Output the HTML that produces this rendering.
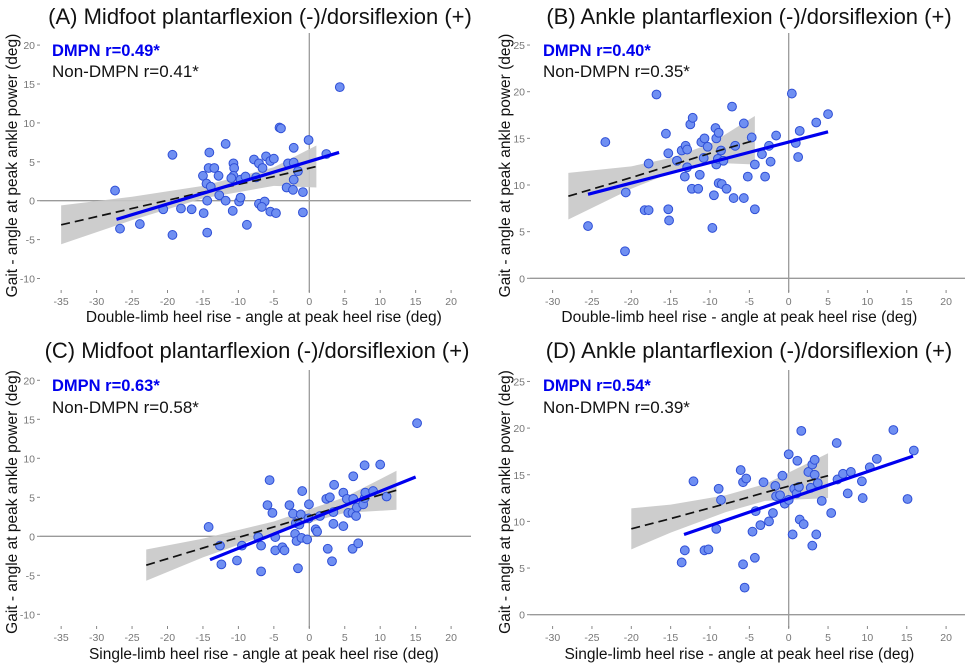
<!DOCTYPE html>
<html><head><meta charset="utf-8">
<style>
html,body{margin:0;padding:0;background:#fff;}
svg{display:block;font-family:"Liberation Sans",Arial,sans-serif;}
</style></head>
<body>
<svg id="fig" width="972" height="666" viewBox="0 0 972 666" xmlns="http://www.w3.org/2000/svg"></svg>
<script>
// ---------- Data ----------
const xTicksMid = [-35,-30,-25,-20,-15,-10,-5,0,5,10,15,20];
const yTicksMid = [-10,-5,0,5,10,15,20];
const xTicksAnk = [-30,-25,-20,-15,-10,-5,0,5,10,15,20];
const yTicksAnk = [0,5,10,15,20,25];

const ptsAx = [-27.4,-26.7,-23.9,-20.6,-19.3,-19.3,-18.1,-16.6,-15,-14.9,-14.5,-14.1,-14.2,-14.4,-14.4,-13.9,-13.4,-12.8,-12.7,-11.8,-11.8,-10.8,-10.7,-10.6,-10.7,-11,-9.9,-9.7,-9.7,-9,-8.8,-7.8,-7.5,-7.1,-7.1,-6.6,-6.3,-6.1,-6.7,-5.5,-5,-5.5,-4.7,-4.2,-4,-3.2,-3,-2.3,-2.2,-2.2,-2.2,-1.6,-0.9,-0.9,-0.1,2.4,4.3];
const ptsAy = [1.3,-3.6,-3.0,-1.1,5.9,-4.4,-1.0,-1.1,3.2,-1.6,2.2,6.2,4.2,0,-4.1,1.8,4.2,3.2,0.7,7.3,0,-1.3,4.8,4.2,3.2,2.9,-0.1,0.4,2.7,3.1,-3.1,5.3,3.0,4.8,-0.4,4.2,-0.1,5.7,-0.8,5.1,5.4,-1.4,-1.6,9.4,9.3,1.7,4.8,1.4,6.8,4.9,2.7,3.8,1.1,-1.5,7.8,6.0,14.6];
const fitA_dmpnX = [-27.2,4.2], fitA_dmpnY = [-2.4,6.2];
const fitA_nonX = [-35,-25,-15,-5,1], fitA_nonY = [-3.1,-1.0,1.1,3.1,4.4], fitA_ci = [2.5,1.5,0.8,1.2,2.7];

const ptsBx = [-25.5,-23.3,-20.7,-20.8,-18.3,-17.8,-17.8,-16.8,-15.6,-15.3,-15.3,-15.2,-14.2,-13.6,-13.2,-13.1,-12.9,-12.9,-12.5,-12.2,-12.3,-11.5,-11.3,-11.1,-10.7,-10.8,-10.3,-9.7,-9.5,-9.3,-9.2,-9.2,-8.9,-9,-8.9,-8.6,-8.5,-8.3,-7.9,-7.2,-7,-6.8,-5.7,-5.7,-5.2,-4.7,-4.3,-4.3,-3.4,-3,-2.5,-2.3,-1.6,0.4,0.9,1.2,1.4,3.5,5];
const ptsBy = [5.6,14.6,9.2,2.9,7.3,7.3,12.3,19.7,15.5,13.4,7.4,6.2,12.6,13.7,10.9,14.2,13.8,11.9,16.5,17.2,9.6,9.6,11.1,14.6,15,12.9,14.1,5.4,8.9,16.1,15,12.2,15.6,12.8,10.2,13.7,10.1,12.6,9.6,18.4,8.6,14.2,16.6,8.6,10.9,15.1,12.2,7.4,13.3,10.9,14.2,12.5,15.3,19.8,14.5,13,15.8,16.7,17.6];
const fitB_dmpnX = [-25.5,5], fitB_dmpnY = [9.0,15.7];
const fitB_nonX = [-28,-20,-15,-10,-4.3], fitB_nonY = [8.8,10.8,12.1,13.4,14.8], fitB_ci = [2.5,1.2,0.8,1.0,2.6];

const ptsCx = [-14.2,-12.6,-12.4,-10.2,-9.5,-7.2,-6.8,-6.8,-5.9,-5.6,-5.2,-4.8,-4.8,-3.8,-3.5,-2.8,-2.3,-2.0,-1.9,-1.8,-1.6,-1.4,-1.2,-1.1,-1.0,-0.3,-0.05,-0.1,0.9,1.1,1.5,2.4,2.6,2.9,3.2,3.4,3.5,3.4,4.8,4.8,5.3,5.5,6.1,6.2,6.1,6.2,6.6,6.7,6.9,7.6,7.8,7.9,7.8,9.0,10,10.9,15.2];
const ptsCy = [1.2,-1.2,-3.6,-3.1,-1.2,-0.1,-1.2,-4.5,4.0,7.2,3.0,-0.1,-1.8,-1.4,-1.8,4.0,2.9,0.3,1.7,-0.6,-4.1,1.5,2.8,-0.2,5.8,-0.4,4.1,2.3,0.9,0.6,2.6,4.8,-1.6,5.0,-3.2,1.6,6.6,3.1,5.6,1.3,4.8,3.0,3.0,4.8,-1.6,7.7,2.6,3.7,-0.9,4.1,4.9,5.6,9.1,5.8,9.2,5.1,14.5];
const fitC_dmpnX = [-14,15], fitC_dmpnY = [-3.0,7.6];
const fitC_nonX = [-23,-15,-5,5,12.3], fitC_nonY = [-3.7,-1.5,1.2,4.0,5.9], fitC_ci = [2.0,1.2,0.7,1.0,2.5];

const ptsDx = [-13.6,-13.2,-10.7,-10.2,-12.1,-9.2,-8.9,-8.6,-6.1,-5.8,-5.8,-5.6,-5.4,-4.6,-4.3,-4.2,-3.6,-3.2,-2.5,-2.0,-1.7,-1.6,-1.1,-0.8,-0.5,0,0,0.5,0.7,1.0,1.1,1.3,1.4,1.6,1.9,2.5,2.8,3.0,3.0,3.3,3.3,3.5,3.7,4.2,5.4,6.1,6.2,6.9,7.5,7.9,9.3,9.4,10.3,11.2,13.3,15.1,15.9];
const ptsDy = [5.6,6.9,6.9,7.0,14.3,9.2,13.5,12.3,15.5,14.2,5.4,2.9,14.6,8.9,6.1,11.1,9.6,14.2,10.0,10.9,13.8,12.7,12.8,14.9,11.9,17.2,12.3,8.6,13.5,13.0,16.5,13.7,10.2,19.7,9.7,15.3,13.6,16.1,7.4,15.0,16.6,8.6,14.1,12.2,10.9,18.4,14.5,15.1,13.0,15.3,14.3,12.5,15.8,16.7,19.8,12.4,17.6];
const fitD_dmpnX = [-13.3,15.8], fitD_dmpnY = [8.6,17.0];
const fitD_nonX = [-20,-15,-8,-3,5], fitD_nonY = [9.2,10.3,11.9,13.1,14.9], fitD_ci = [2.2,1.5,0.9,0.9,2.4];

// ---------- Layout ----------
const NS = "http://www.w3.org/2000/svg";
const svg = document.getElementById('fig');
function mk(tag, attrs, parent){
  const e = document.createElementNS(NS, tag);
  for (const k in attrs) e.setAttribute(k, attrs[k]);
  (parent||svg).appendChild(e);
  return e;
}

const panels = [
  {id:'a', title:'(A) Midfoot plantarflexion (-)/dorsiflexion (+)', tx:260, ty:24,
   xz:309.3, sx:7.09, yz:200.7, sy:7.78, L:40, R:471, T:33, B:292,
   xt:xTicksMid, yt:yTicksMid, xlab:'Double-limb heel rise - angle at peak heel rise (deg)', xly:322, ylx:13, tickY:305,
   r1:'DMPN r=0.49*', r2:'Non-DMPN  r=0.41*', ax:52, ay1:56, ay2:77,
   px:ptsAx, py:ptsAy, dX:fitA_dmpnX, dY:fitA_dmpnY, nX:fitA_nonX, nY:fitA_nonY, ci:fitA_ci},
  {id:'b', title:'(B) Ankle plantarflexion (-)/dorsiflexion (+)', tx:749, ty:24,
   xz:788.7, sx:7.87, yz:278.3, sy:9.33, L:530, R:965, T:33, B:292,
   xt:xTicksAnk, yt:yTicksAnk, xlab:'Double-limb heel rise - angle at peak heel rise (deg)', xly:322, ylx:506, tickY:305,
   r1:'DMPN r=0.40*', r2:'Non-DMPN r=0.35*', ax:543, ay1:56, ay2:77,
   px:ptsBx, py:ptsBy, dX:fitB_dmpnX, dY:fitB_dmpnY, nX:fitB_nonX, nY:fitB_nonY, ci:fitB_ci},
  {id:'c', title:'(C) Midfoot plantarflexion (-)/dorsiflexion (+)', tx:257, ty:358,
   xz:309.3, sx:7.09, yz:536.3, sy:7.8, L:40, R:471, T:370, B:628,
   xt:xTicksMid, yt:yTicksMid, xlab:'Single-limb heel rise - angle at peak heel rise (deg)', xly:659, ylx:13, tickY:641,
   r1:'DMPN r=0.63*', r2:'Non-DMPN r=0.58*', ax:52, ay1:391, ay2:413,
   px:ptsCx, py:ptsCy, dX:fitC_dmpnX, dY:fitC_dmpnY, nX:fitC_nonX, nY:fitC_nonY, ci:fitC_ci},
  {id:'d', title:'(D) Ankle plantarflexion (-)/dorsiflexion (+)', tx:749, ty:358,
   xz:788.7, sx:7.87, yz:614.7, sy:9.33, L:530, R:965, T:370, B:628,
   xt:xTicksAnk, yt:yTicksAnk, xlab:'Single-limb heel rise - angle at peak heel rise (deg)', xly:659, ylx:506, tickY:641,
   r1:'DMPN r=0.54*', r2:'Non-DMPN r=0.39*', ax:543, ay1:391, ay2:413,
   px:ptsDx, py:ptsDy, dX:fitD_dmpnX, dY:fitD_dmpnY, nX:fitD_nonX, nY:fitD_nonY, ci:fitD_ci}
];

panels.forEach(p => {
  const X = v => p.xz + v*p.sx;
  const Y = v => p.yz - v*p.sy;
  const g = mk('g', {});
  
  

  const t = mk('text', {x:p.tx, y:p.ty, 'text-anchor':'middle', 'font-size':'22', fill:'#111'}, g);
  t.textContent = p.title;
  
  

  const h = mk('line', {x1:p.L, x2:p.R, y1:Y(0), y2:Y(0), stroke:'#9a9a9a', 'stroke-width':1.3}, g);
  
  
  const v = mk('line', {x1:X(0), x2:X(0), y1:p.T, y2:p.B, stroke:'#9a9a9a', 'stroke-width':1.3}, g);
  
  

  p.yt.forEach(val => {
    const tk = mk('line', {x1:p.L-3, x2:p.L, y1:Y(val), y2:Y(val), stroke:'#888', 'stroke-width':1}, g);
    
    
    const tl = mk('text', {x:p.L-5, y:Y(val)+4, 'text-anchor':'end', 'font-size':'10.5', fill:'#777'}, g);
    tl.textContent = val;
    
    
  });
  p.xt.forEach(val => {
    const tk = mk('line', {x1:X(val), x2:X(val), y1:p.tickY-15, y2:p.tickY-12, stroke:'#888', 'stroke-width':1}, g);
    
    
    const tl = mk('text', {x:X(val), y:p.tickY, 'text-anchor':'middle', 'font-size':'10.5', fill:'#777'}, g);
    tl.textContent = val;
    
    
  });
  const xl = mk('text', {x:(X(-30)+X(20))/2 - 10, y:p.xly, 'text-anchor':'middle', 'font-size':'15.5', fill:'#111'}, g);
  xl.textContent = p.xlab;
  
  
  const ycy = (p.T + p.B)/2 + 3;
  const yl = mk('text', {x:p.ylx, y:ycy, 'text-anchor':'middle', 'font-size':'15.5', fill:'#111', transform:'rotate(-90 '+p.ylx+' '+ycy+')', 'dominant-baseline':'middle'}, g);
  yl.textContent = 'Gait - angle at peak ankle power (deg)';
  
  

  let d = '';
  p.nX.forEach((x,i) => { d += (i?'L':'M') + X(x) + ' ' + Y(p.nY[i]+p.ci[i]) + ' '; });
  for (let i = p.nX.length-1; i >= 0; i--) d += 'L' + X(p.nX[i]) + ' ' + Y(p.nY[i]-p.ci[i]) + ' ';
  const band = mk('path', {d:d+'Z', fill:'#c8c8c8', 'fill-opacity':0.9, stroke:'none'}, g);
  
  

  p.px.forEach((x,i) => {
    const c = mk('circle', {cx:X(x), cy:Y(p.py[i]), r:4.4, fill:'#6f8ff2', stroke:'#2f4fd6', 'stroke-width':1}, g);
    
    
  });

  const dl = mk('polyline', {points:p.nX.map((x,i)=>X(x)+','+Y(p.nY[i])).join(' '), fill:'none', stroke:'#111', 'stroke-width':1.7, 'stroke-dasharray':'9 5'}, g);
  
  
  const bl = mk('line', {x1:X(p.dX[0]), y1:Y(p.dY[0]), x2:X(p.dX[1]), y2:Y(p.dY[1]), stroke:'#0000ee', 'stroke-width':3.2}, g);
  
  

  const a1 = mk('text', {x:p.ax, y:p.ay1, 'font-size':'16.5', 'font-weight':'bold', fill:'#0000ee'}, g);
  a1.textContent = p.r1;
  
  
  const a2 = mk('text', {x:p.ax, y:p.ay2, 'font-size':'17', fill:'#111'}, g);
  a2.textContent = p.r2;
  
  
});
</script>
</body></html>
